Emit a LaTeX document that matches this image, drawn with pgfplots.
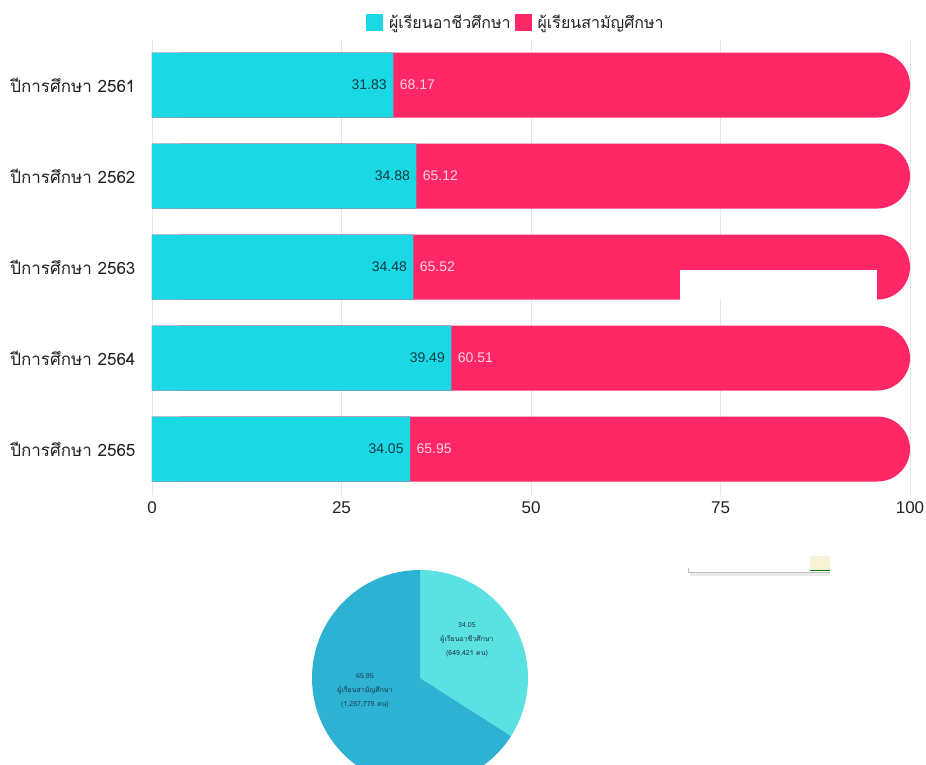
\documentclass[border=0pt]{standalone}
\usepackage{fontspec}
\setmainfont{Liberation Sans}
\newfontfamily\thai[Script=Thai]{Loma}
\usepackage{pgfplots}
\pgfplotsset{compat=1.18}
\usepackage{pgfplotstable}
\definecolor{cyanbar}{HTML}{1AD9E5}
\definecolor{pinkbar}{HTML}{FF2765}
\definecolor{cyanlab}{HTML}{0F3A44}
\definecolor{pinklab}{HTML}{FFD3DF}
\definecolor{txt}{HTML}{222222}
\definecolor{gridc}{HTML}{E6E6E6}
\definecolor{pielight}{HTML}{5CE1E3}
\definecolor{piedark}{HTML}{2EB2D3}
\definecolor{pietxt}{HTML}{1C3A4C}
\definecolor{creamc}{HTML}{F7F2D6}
\pgfplotstableread{
y a b
0 31.83 68.17
1 34.88 65.12
2 34.48 65.52
3 39.49 60.51
4 34.05 65.95
}\bardata
\begin{document}
\begin{tikzpicture}
\path[use as bounding box] (0,0) rectangle (926pt,764pt);
\begin{axis}[
  at={(152pt,269.5pt)}, anchor=south west,
  scale only axis, width=758pt, height=455pt,
  xmin=0, xmax=100, ymin=-0.5, ymax=4.5, y dir=reverse,
  axis line style={draw=none}, tick style={draw=none},
  xtick={0,25,50,75,100}, ytick={0,1,2,3,4},
  yticklabels={ปีการศึกษา 2561,ปีการศึกษา 2562,ปีการศึกษา 2563,ปีการศึกษา 2564,ปีการศึกษา 2565},
  yticklabel style={font=\thai\fontsize{17}{20}\selectfont, text=txt, xshift=-13pt},
  xticklabel style={font=\fontsize{17}{20}\selectfont, text=txt, yshift=-4pt},
  /pgf/number format/assume math mode=true,
  xmajorgrids, grid style={gridc, line width=0.8pt},
  legend columns=2,
  legend style={at={(0.48,1)}, anchor=south, yshift=5pt, draw=none, fill=none,
    font=\thai\fontsize{16}{19}\selectfont, text=txt,
    /tikz/every odd column/.append style={column sep=4pt},
    /tikz/every even column/.append style={column sep=2pt}},
  legend image code/.code={\fill[#1] (0pt,-8.5pt) rectangle (17pt,8.5pt);},
]
\addlegendimage{fill=cyanbar, draw=none}
\addlegendentry{ผู้เรียนอาชีวศึกษา}
\addlegendimage{fill=pinkbar, draw=none}
\addlegendentry{ผู้เรียนสามัญศึกษา}
\addplot[xbar, bar width=65pt, bar shift=0pt, fill=pinkbar, draw=none, forget plot]
  table[x=a, y=y] {\bardata};
\addplot[xbar, bar width=65pt, bar shift=0pt, fill=pinkbar, draw=none,
  rounded corners=32.5pt, forget plot]
  table[x expr=\thisrow{a}+\thisrow{b}, y=y] {\bardata};
\addplot[xbar, bar width=65pt, bar shift=0pt, fill=cyanbar, draw=none, forget plot,
  point meta=explicit symbolic, nodes near coords,
  nodes near coords style={anchor=east, xshift=-3pt, text=cyanlab,
    font=\fontsize{14}{16}\selectfont}]
  table[x=a, y=y, meta=a] {\bardata};
\addplot[xbar, bar width=65pt, bar shift=0pt, fill=none, draw=none, forget plot,
  point meta=explicit symbolic, nodes near coords,
  nodes near coords style={anchor=west, xshift=3pt, text=pinklab,
    font=\fontsize{14}{16}\selectfont}]
  table[x=a, y=y, meta=b] {\bardata};
\end{axis}
\fill[white] (680pt,464pt) rectangle (877pt,494pt);
% small artifact
\fill[black!8] (690pt,188pt) rectangle (830pt,191pt);
\draw[black!25, line width=0.6pt] (688pt,192pt) -- (830pt,192pt);
\draw[black!25, line width=0.6pt] (688pt,192pt) -- (688pt,196pt);
\fill[creamc] (810pt,194pt) rectangle (830pt,208pt);
\draw[green!50!black, line width=1pt] (810pt,193.5pt) -- (830pt,193.5pt);
\pgfmathsetmacro{\pa}{90-34.05*3.6}
\begin{axis}[at={(300pt,0pt)}, anchor=south west, hide axis, x=1pt, y=1pt,
  xmin=-120, xmax=120, ymin=-86, ymax=115, clip=true]
\fill[pielight] (axis cs:0,0) -- (axis cs:0,108) arc[start angle=90, end angle=\pa, radius=108pt] -- cycle;
\fill[piedark] (axis cs:0,0) -- (axis cs:0,108) arc[start angle=90, end angle=\pa+360, radius=108pt] -- cycle;
\node[align=center, text=pietxt, font=\fontsize{7}{14}\selectfont] at (axis cs:47,38)
  {34.05\\{\thai ผู้เรียนอาชีวศึกษา}\\({\thai 649,421 คน})};
\node[align=center, text=pietxt, font=\fontsize{7}{14}\selectfont] at (axis cs:-55,-13)
  {65.95\\{\thai ผู้เรียนสามัญศึกษา}\\({\thai 1,257,775 คน})};
\end{axis}
\end{tikzpicture}
\end{document}
